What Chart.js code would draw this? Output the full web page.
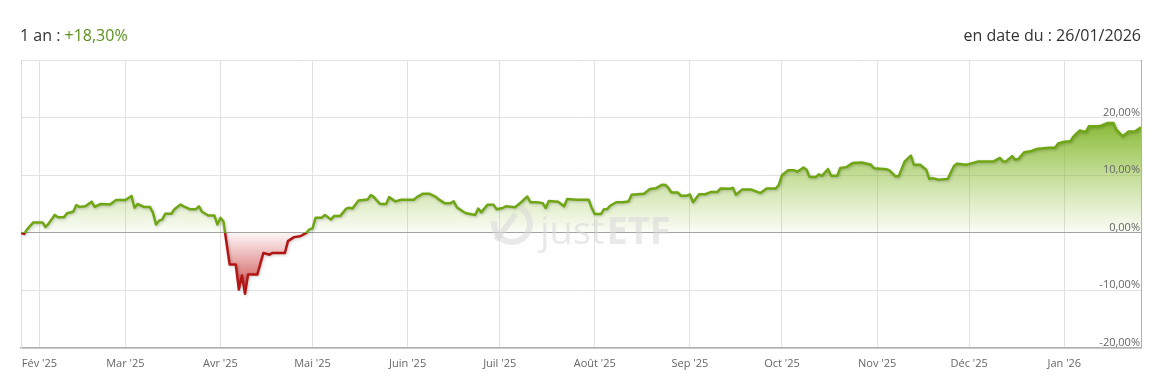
<!DOCTYPE html>
<html lang="fr">
<head>
<meta charset="utf-8">
<title>Performance 1 an</title>
<script src="https://cdn.jsdelivr.net/npm/chart.js@4.4.1/dist/chart.umd.min.js"></script>
<style>
    html, body { margin: 0; padding: 0; background: #fff; }
    body { width: 1159px; height: 388px; position: relative; overflow: hidden; font-family: 'Open Sans', sans-serif; color: #333; }
    .head { position: absolute; top: 24px; font-size: 16px; line-height: 22px; z-index: 2; }
    #perfLabel { left: 20px; }
    #dateLabel { right: 18px; }
    .up { color: #5a921c; }
    #wrap { position: absolute; left: 0; top: 0; width: 1159px; height: 388px; }
</style>
</head>
<body>
<div class="head" id="perfLabel">1 an : <span class="up">+18,30%</span></div>
<div class="head" id="dateLabel">en date du : 26/01/2026</div>
<div id="wrap"><canvas id="perfChart"></canvas></div>
<script>
// days since 26/01/2025
const days = [
    0, 1, 2, 4, 7, 8, 9, 11, 12, 14,
    15, 17, 18, 19, 21, 23, 24, 26, 29, 31,
    34, 36, 37, 38, 40, 42, 43, 44, 45, 46,
    47, 49, 50, 52, 53, 55, 57, 58, 59, 61,
    63, 64, 65, 66, 68, 70, 71, 72, 73, 74,
    77, 79, 81, 82, 86, 87, 89, 91, 93, 94,
    95, 96, 98, 99, 101, 102, 104, 106, 107, 108,
    110, 113, 114, 115, 117, 119, 120, 121,
    122, 124, 128, 129, 131, 133, 135, 136, 138, 140,
    141, 142, 144, 145, 148, 149, 150, 152, 154, 155,
    157, 158, 161, 163, 165, 166, 168, 170, 171, 172,
    175, 177, 178, 181, 185, 186, 187, 189, 190, 191,
    192, 194, 196, 198, 199, 203, 205, 207, 209, 210,
    211, 212, 214, 215, 217, 218, 219, 221, 223, 225,
    227, 228, 231, 232, 233, 235, 238, 241, 243,
    246, 247, 248, 250, 252, 253, 255, 256, 257, 259,
    260, 261, 263, 264, 266, 267, 269, 271, 274, 277,
    278, 282, 283, 285, 286, 288, 290, 291, 293, 295,
    296, 297, 299, 302, 304, 305, 308, 310, 312, 317,
    318, 319, 320, 321, 323, 324, 325, 327, 329, 331,
    335, 337, 338, 340, 342, 343, 345, 347, 348, 351,
    352, 354, 356, 357, 359, 361, 363, 365
];
// performance in %
const perf = [
    0, -0.2, 0.6, 1.8, 1.8, 1.0, 1.6, 3.1, 2.7, 2.7,
    3.4, 3.65, 4.8, 4.5, 4.6, 5.4, 4.5, 5.0, 4.9, 5.7,
    5.7, 6.4, 4.35, 5.0, 4.5, 4.5, 3.5, 1.45, 2.1, 2.3,
    3.3, 3.3, 4.1, 4.9, 4.6, 4.1, 4.1, 4.6, 3.65, 3.0,
    3.0, 1.45, 2.6, 1.9, -5.5, -5.5, -9.85, -7.4, -10.6, -7.25,
    -7.25, -3.5, -3.8, -3.5, -3.5, -1.45, -0.75, -0.6, 0, 0.6,
    0.75, 2.6, 2.6, 3.1, 2.3, 2.9, 2.9, 4.2, 4.35, 4.2,
    5.6, 5.8, 6.55, 6.2, 5.0, 5.0, 6.2, 5.8,
    5.45, 5.75, 5.75, 6.2, 6.8, 6.8, 6.3, 5.85, 5.15, 5.15,
    5.45, 4.45, 3.7, 3.4, 3.1, 4.2, 3.55, 4.85, 4.85, 4.1,
    4.3, 4.6, 4.45, 5.3, 6.3, 5.3, 5.3, 5.15, 4.3, 5.5,
    5.4, 4.6, 5.85, 5.75, 5.75, 4.3, 3.25, 3.25, 4.1, 4.1,
    4.7, 5.3, 5.3, 5.45, 6.6, 6.8, 7.6, 7.75, 8.35, 8.3,
    7.75, 7.0, 7.0, 6.45, 6.45, 6.65, 5.3, 6.7, 6.7, 7.1,
    7.1, 7.7, 7.65, 7.8, 6.6, 7.5, 7.5, 6.9, 7.7,
    7.7, 8.35, 10.0, 10.85, 10.85, 10.6, 11.35, 10.95, 9.7, 9.7,
    10.15, 9.9, 11.05, 9.9, 9.9, 11.25, 11.4, 12.1, 12.2, 11.8,
    11.2, 11.05, 10.85, 9.8, 9.8, 12.4, 13.4, 11.8, 11.8, 10.95,
    9.35, 9.5, 9.2, 9.35, 11.55, 12.0, 11.8, 12.1, 12.4, 12.4,
    12.7, 13.0, 12.4, 12.4, 13.3, 12.7, 12.8, 14.0, 14.15, 14.55,
    14.75, 14.75, 15.5, 15.8, 15.9, 16.75, 17.75, 17.5, 18.5, 18.5,
    18.6, 19.05, 19.05, 17.9, 16.75, 17.6, 17.6, 18.3
];

const monthDays = [6, 34, 65, 95, 126, 156, 187, 218, 248, 279, 309, 340];
const monthLabels = ["Fév '25", "Mar '25", "Avr '25", "Mai '25", "Juin '25", "Juil '25", "Août '25", "Sep '25", "Oct '25", "Nov '25", "Déc '25", "Jan '26"];
const yTicks = [-20, -10, 0, 10, 20, 30];
const yTickLabels = ['-20,00%', '-10,00%', '0,00%', '10,00%', '20,00%', ''];

const GREEN = '#6fa614';
const RED = '#b31414';

// line: green above 0, red below
function lineColor(context) {
    const chart = context.chart;
    const { chartArea, scales } = chart;
    if (!chartArea) return GREEN;
    const z = (scales.y.getPixelForValue(0) - chartArea.top) / (chartArea.bottom - chartArea.top);
    const g = chart.ctx.createLinearGradient(0, chartArea.top, 0, chartArea.bottom);
    g.addColorStop(0, GREEN);
    g.addColorStop(z, GREEN);
    g.addColorStop(z, RED);
    g.addColorStop(1, RED);
    return g;
}

function fillColor(context) {
    const chart = context.chart;
    const { chartArea, scales } = chart;
    if (!chartArea) return 'rgba(114,168,20,0.3)';
    const top = scales.y.getPixelForValue(22);
    const bottom = scales.y.getPixelForValue(-11);
    const z = (scales.y.getPixelForValue(0) - top) / (bottom - top);
    const g = chart.ctx.createLinearGradient(0, top, 0, bottom);
    g.addColorStop(0, 'rgba(116,174,20,1)');
    g.addColorStop(z - 0.001, 'rgba(140,190,50,0.04)');
    g.addColorStop(z, 'rgba(200,40,40,0.04)');
    g.addColorStop(1, 'rgba(190,25,25,0.85)');
    return g;
}

const lineShadow = {
    id: 'lineShadow',
    beforeDatasetDraw(chart) {
        const ctx = chart.ctx;
        ctx.save();
        ctx.shadowColor = 'rgba(0,0,0,0.22)';
        ctx.shadowBlur = 3;
        ctx.shadowOffsetX = 1;
        ctx.shadowOffsetY = 1;
    },
    afterDatasetDraw(chart) {
        chart.ctx.restore();
    }
};

const overlay = {
    id: 'overlay',
    afterDatasetsDraw(chart) {
        const { ctx, chartArea, scales: { y } } = chart;
        ctx.save();
        // watermark
        ctx.fillStyle = 'rgba(215,215,215,0.55)';
        ctx.strokeStyle = 'rgba(215,215,215,0.55)';
        ctx.lineWidth = 6;
        ctx.beginPath();
        ctx.arc(512, 224, 18, -0.35 * Math.PI, 1.05 * Math.PI);
        ctx.stroke();
        ctx.beginPath();
        ctx.moveTo(496, 240);
        ctx.lineTo(516, 214);
        ctx.stroke();
        ctx.textBaseline = 'alphabetic';
        ctx.textAlign = 'left';
        ctx.font = '38px "Open Sans", sans-serif';
        ctx.fillText('just', 540, 244);
        const w = ctx.measureText('just').width;
        ctx.font = 'bold 38px "Open Sans", sans-serif';
        ctx.fillText('ETF', 540 + w + 2, 244);

        // y labels inside plot, right aligned
        ctx.font = '11px "Open Sans", sans-serif';
        ctx.fillStyle = '#666';
        ctx.textAlign = 'right';
        yTicks.forEach((v, i) => {
            if (!yTickLabels[i]) return;
            ctx.fillText(yTickLabels[i], chartArea.right - 1, y.getPixelForValue(v) - 2);
        });

        // right border
        ctx.strokeStyle = '#b0b0b0';
        ctx.lineWidth = 1;
        ctx.beginPath();
        ctx.moveTo(chartArea.right + 0.5, chartArea.top);
        ctx.lineTo(chartArea.right + 0.5, chartArea.bottom);
        ctx.stroke();
        ctx.restore();
    }
};

new Chart(document.getElementById('perfChart'), {
    type: 'line',
    data: {
        datasets: [{
            data: days.map((d, i) => ({ x: d, y: perf[i] })),
            borderColor: lineColor,
            backgroundColor: fillColor,
            borderWidth: 2.5,
            fill: 'origin',
            pointRadius: 0,
            tension: 0,
            borderJoinStyle: 'round'
        }]
    },
    options: {
        responsive: true,
        maintainAspectRatio: false,
        animation: false,
        layout: { padding: { left: 21, right: 18, top: 60, bottom: 0 } },
        plugins: {
            legend: { display: false },
            tooltip: { enabled: false }
        },
        scales: {
            x: {
                type: 'linear',
                min: 0,
                max: 365,
                afterBuildTicks: scale => { scale.ticks = monthDays.map(v => ({ value: v })); },
                afterFit: scale => { scale.height = 40; },
                grid: { color: '#e1e1e1', drawTicks: false },
                border: { color: '#b0b0b0', width: 1.5 },
                ticks: {
                    autoSkip: false,
                    maxRotation: 0,
                    padding: 9,
                    color: '#666',
                    font: { family: 'Open Sans', size: 11 },
                    callback: (v, i) => monthLabels[i]
                }
            },
            y: {
                min: -20,
                max: 30,
                afterBuildTicks: scale => { scale.ticks = yTicks.map(v => ({ value: v })); },
                afterFit: scale => { scale.width = 0; },
                grid: {
                    drawTicks: false,
                    color: c => (c.tick && c.tick.value === 0) ? '#a3a3a3' : '#e1e1e1'
                },
                border: { color: '#dcdcdc' },
                ticks: { display: false }
            }
        }
    },
    plugins: [lineShadow, overlay]
});
</script>
</body>
</html>
